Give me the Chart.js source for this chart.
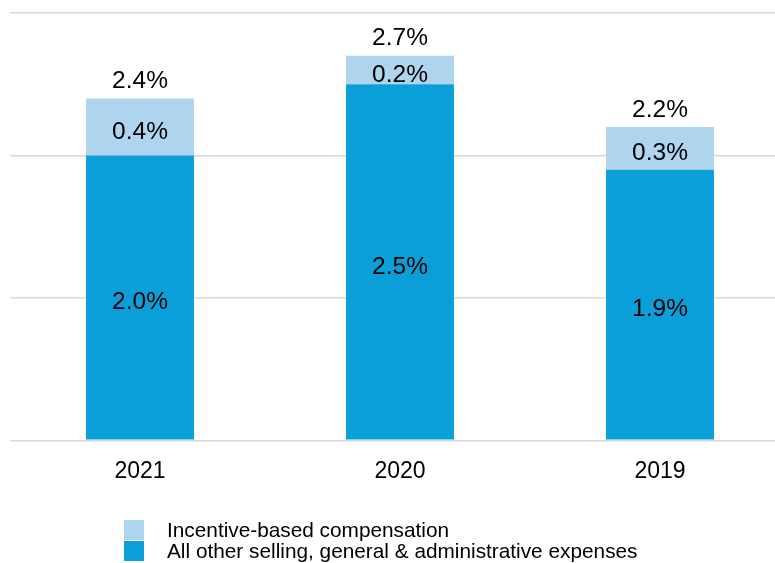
<!DOCTYPE html>
<html>
<head>
<meta charset="utf-8">
<script src="https://cdn.jsdelivr.net/npm/chart.js@4/dist/chart.umd.min.js"></script>
<style>
  html, body { margin: 0; padding: 0; background: #fff; overflow: hidden; }
  #wrap { position: relative; width: 775px; height: 563px; overflow: hidden; }
  #sga { position: absolute; left: 0; top: 0; }
  #legend { position: absolute; left: 124px; top: 519px; font-family: "Liberation Sans", Arial, sans-serif; font-size: 20.8px; color: #000; }
  #legend .item { display: flex; align-items: center; height: 21.5px; }
  #legend .box { width: 20px; height: 20px; margin-right: 23px; }
</style>
</head>
<body>
<div id="wrap">
  <canvas id="sga" width="790" height="563"></canvas>
  <div id="legend"></div>
</div>
<script>
// SG&A as a percentage of sales, split into two parts
var years      = ['2021', '2020', '2019'];
var otherSga   = [2.0, 2.5, 1.9];
var incentive  = [0.4, 0.2, 0.3];
var yTicks     = [0, 1, 2, 3];

var DARK  = '#0B9FDA';
var LIGHT = '#AED4EE';
var FONT  = '"Liberation Sans", Arial, sans-serif';

function pct(v) { return v.toFixed(1) + '%'; }

// value labels inside each segment plus the total above the stack
var barLabels = {
    id: 'barLabels',
    afterDatasetsDraw: function(chart) {
        var ctx = chart.ctx;
        ctx.save();
        ctx.font = '24.5px ' + FONT;
        ctx.fillStyle = '#000';
        ctx.textAlign = 'center';
        ctx.textBaseline = 'middle';
        chart.data.datasets.forEach(function(ds, di) {
            chart.getDatasetMeta(di).data.forEach(function(bar, i) {
                ctx.fillText(pct(ds.data[i]), bar.x, (bar.y + bar.base) / 2 + 5);
            });
        });
        var top = chart.getDatasetMeta(chart.data.datasets.length - 1).data;
        top.forEach(function(bar, i) {
            var total = otherSga[i] + incentive[i];
            ctx.fillText(pct(total), bar.x, bar.y - 17);
        });
        ctx.restore();
    }
};

var sgaChart = new Chart(document.getElementById('sga'), {
    type: 'bar',
    data: {
        labels: years,
        datasets: [
            {
                label: 'All other selling, general & administrative expenses',
                data: otherSga,
                backgroundColor: DARK,
                barPercentage: 0.415,
                categoryPercentage: 1
            },
            {
                label: 'Incentive-based compensation',
                data: incentive,
                backgroundColor: LIGHT,
                barPercentage: 0.415,
                categoryPercentage: 1
            }
        ]
    },
    options: {
        responsive: false,
        animation: false,
        layout: { padding: { left: 10, top: 13, right: 0, bottom: 61 } },
        plugins: {
            legend: { display: false },
            tooltip: { enabled: false }
        },
        scales: {
            x: {
                stacked: true,
                grid: { display: false, drawTicks: false },
                border: { display: false },
                ticks: { color: '#000', font: { family: FONT, size: 23 }, padding: 17 }
            },
            y: {
                stacked: true,
                min: yTicks[0],
                max: yTicks[yTicks.length - 1],
                afterBuildTicks: function(scale) {
                    scale.ticks = yTicks.map(function(v) { return { value: v }; });
                },
                grid: { color: '#D9D9D9', lineWidth: 1.6, drawTicks: false },
                border: { display: false },
                ticks: { display: false }
            }
        }
    },
    plugins: [barLabels]
});

// legend lists the top segment first
var legendEl = document.getElementById('legend');
sgaChart.data.datasets.slice().reverse().forEach(function(ds) {
    var item = document.createElement('div');
    item.className = 'item';
    var box = document.createElement('span');
    box.className = 'box';
    box.style.background = ds.backgroundColor;
    var txt = document.createElement('span');
    txt.textContent = ds.label;
    item.appendChild(box);
    item.appendChild(txt);
    legendEl.appendChild(item);
});
</script>
</body>
</html>
